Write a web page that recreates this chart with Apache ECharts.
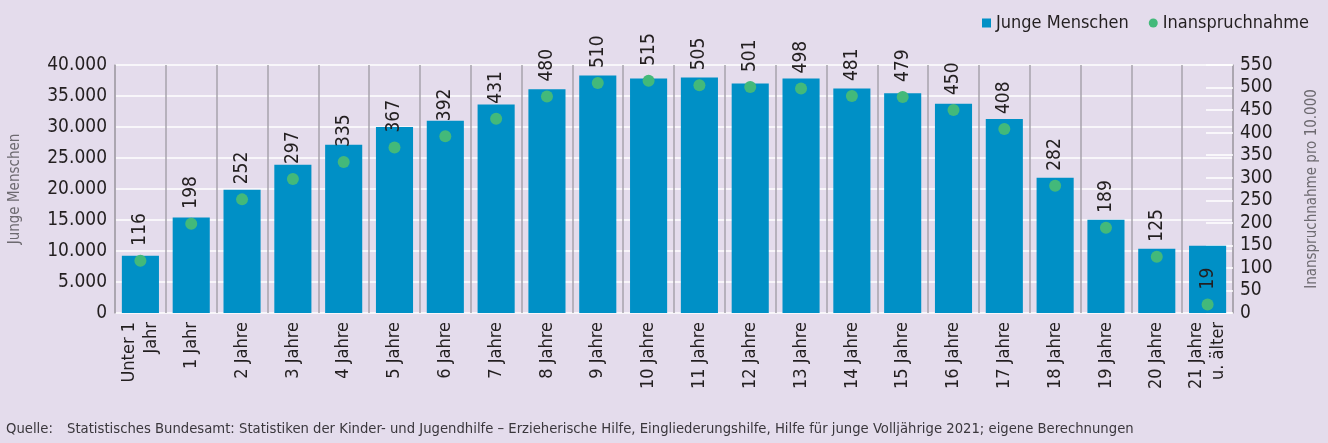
<!DOCTYPE html>
<html>
<head>
<meta charset="utf-8">
<script src="https://cdn.jsdelivr.net/npm/echarts@6/dist/echarts.min.js"></script>
<style>
  html, body { margin: 0; padding: 0; background: #e4dcec; }
  #chart { width: 1328px; height: 443px; }
</style>
</head>
<body>
<div id="chart"></div>
<script>
var categories = ['Unter 1\nJahr', '1 Jahr', '2 Jahre', '3 Jahre', '4 Jahre', '5 Jahre', '6 Jahre', '7 Jahre',
    '8 Jahre', '9 Jahre', '10 Jahre', '11 Jahre', '12 Jahre', '13 Jahre', '14 Jahre', '15 Jahre',
    '16 Jahre', '17 Jahre', '18 Jahre', '19 Jahre', '20 Jahre', '21 Jahre\nu. älter']
var jungeMenschen = [9250, 15420, 19870, 23900, 27120, 30020, 30990, 33620, 36100, 38290, 37810,
    37970, 37010, 37810, 36200, 35450, 33730, 31310, 21800, 15040, 10370, 10850]
var inanspruchnahme = [116, 198, 252, 297, 335, 367, 392, 431, 480, 510, 515, 505, 501, 498, 481,
    479, 450, 408, 282, 189, 125, 19]

var font = "'Liberation Sans Narrow', 'DejaVu Sans Condensed', 'Liberation Sans', sans-serif"
var textColor = '#231f20'

function punkt(v) {
    return String(v).replace(/\B(?=(\d{3})+(?!\d))/g, '.')
}

var chart = echarts.init(document.getElementById('chart'), null, { renderer: 'canvas' })

var option = {
    backgroundColor: '#e4dcec',
    textStyle: { fontFamily: font },
    animation: false,
    legend: {
        right: 14,
        top: 9,
        itemWidth: 9,
        itemHeight: 9,
        itemGap: 20,
        textStyle: { fontFamily: font, fontSize: 18, color: textColor },
        data: [
            { name: 'Junge Menschen', icon: 'rect' },
            { name: 'Inanspruchnahme', icon: 'circle' }
        ]
    },
    grid: { left: 113, right: 92, top: 65, bottom: 130 },
    xAxis: {
        type: 'category',
        data: categories,
        axisLine: { show: false },
        axisTick: { show: false },
        splitLine: { show: true, interval: 0, lineStyle: { color: '#a7a3ad', width: 1.5 } },
        axisLabel: {
            interval: 0,
            rotate: 90,
            margin: 9,
            fontFamily: font,
            fontSize: 18,
            lineHeight: 22,
            color: textColor
        }
    },
    yAxis: [
        {
            type: 'value',
            min: 0,
            max: 40000,
            interval: 5000,
            name: 'Junge Menschen',
            nameLocation: 'middle',
            nameRotate: 90,
            nameGap: 92,
            nameTextStyle: { fontFamily: font, fontSize: 15, color: '#6d6a70' },
            axisLine: { show: true, lineStyle: { color: '#a7a3ad', width: 1.5 } },
            axisTick: { show: false },
            splitLine: { show: true, lineStyle: { color: '#ffffff', width: 1.5 } },
            axisLabel: {
                margin: 8,
                fontFamily: font,
                fontSize: 19,
                color: textColor,
                formatter: punkt
            }
        },
        {
            type: 'value',
            min: 0,
            max: 550,
            interval: 50,
            position: 'right',
            name: 'Inanspruchnahme pro 10.000',
            nameLocation: 'middle',
            nameRotate: 90,
            nameGap: 72,
            nameTextStyle: { fontFamily: font, fontSize: 15, color: '#6d6a70' },
            axisLine: { show: true, lineStyle: { color: '#a7a3ad', width: 1.5 } },
            axisTick: { show: true, inside: true, length: 27, lineStyle: { color: '#ffffff', width: 1.5 } },
            splitLine: { show: false },
            axisLabel: {
                margin: 7,
                fontFamily: font,
                fontSize: 19,
                color: textColor
            }
        }
    ],
    series: [
        {
            name: 'Junge Menschen',
            type: 'bar',
            yAxisIndex: 0,
            barCategoryGap: '27%',
            itemStyle: { color: '#0090c6' },
            data: jungeMenschen
        },
        {
            name: 'Inanspruchnahme',
            type: 'scatter',
            yAxisIndex: 1,
            symbol: 'circle',
            symbolSize: 12,
            itemStyle: { color: '#43b97a', opacity: 1 },
            label: {
                show: true,
                position: 'top',
                distance: 9,
                rotate: 90,
                align: 'left',
                verticalAlign: 'middle',
                fontFamily: font,
                fontSize: 19,
                color: textColor
            },
            data: inanspruchnahme
        }
    ],
    graphic: [
        {
            type: 'text',
            left: 6,
            top: 422,
            style: { text: 'Quelle:', font: '14.7px ' + font, fill: '#3a373c' }
        },
        {
            type: 'text',
            left: 67,
            top: 422,
            style: {
                text: 'Statistisches Bundesamt: Statistiken der Kinder- und Jugendhilfe – Erzieherische Hilfe, Eingliederungshilfe, Hilfe für junge Volljährige 2021; eigene Berechnungen',
                font: '14.7px ' + font,
                fill: '#3a373c'
            }
        }
    ]
}

option && chart.setOption(option)
</script>
</body>
</html>
